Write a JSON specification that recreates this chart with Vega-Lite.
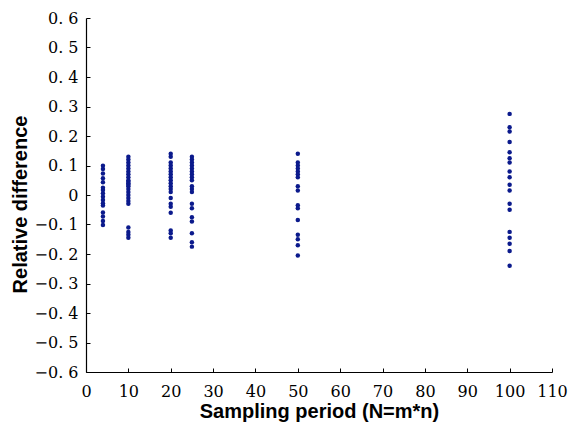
{
  "$schema": "https://vega.github.io/schema/vega-lite/v6.json",
  "width": 466,
  "height": 354,
  "autosize": {"type": "none"},
  "padding": {"left": 86, "top": 18, "right": 17, "bottom": 53},
  "background": "white",
  "config": {"view": {"stroke": null}},
  "data": {
    "values": [
      {"N": 4, "d": 0.099}, {"N": 4, "d": 0.088}, {"N": 4, "d": 0.073}, {"N": 4, "d": 0.057},
      {"N": 4, "d": 0.043}, {"N": 4, "d": 0.025}, {"N": 4, "d": 0.017}, {"N": 4, "d": 0.006},
      {"N": 4, "d": -0.006}, {"N": 4, "d": -0.017}, {"N": 4, "d": -0.028}, {"N": 4, "d": -0.036},
      {"N": 4, "d": -0.059}, {"N": 4, "d": -0.073}, {"N": 4, "d": -0.088}, {"N": 4, "d": -0.102},
      {"N": 10, "d": 0.13}, {"N": 10, "d": 0.12}, {"N": 10, "d": 0.11}, {"N": 10, "d": 0.1},
      {"N": 10, "d": 0.09}, {"N": 10, "d": 0.08}, {"N": 10, "d": 0.07}, {"N": 10, "d": 0.06},
      {"N": 10, "d": 0.05}, {"N": 10, "d": 0.045}, {"N": 10, "d": 0.04}, {"N": 10, "d": 0.035},
      {"N": 10, "d": 0.03}, {"N": 10, "d": 0.02}, {"N": 10, "d": 0.01}, {"N": 10, "d": 0.0},
      {"N": 10, "d": -0.01}, {"N": 10, "d": -0.02}, {"N": 10, "d": -0.03}, {"N": 10, "d": -0.11},
      {"N": 10, "d": -0.125}, {"N": 10, "d": -0.135}, {"N": 10, "d": -0.145},
      {"N": 20, "d": 0.14}, {"N": 20, "d": 0.13}, {"N": 20, "d": 0.11}, {"N": 20, "d": 0.1},
      {"N": 20, "d": 0.09}, {"N": 20, "d": 0.08}, {"N": 20, "d": 0.07}, {"N": 20, "d": 0.06},
      {"N": 20, "d": 0.05}, {"N": 20, "d": 0.04}, {"N": 20, "d": 0.03}, {"N": 20, "d": 0.02},
      {"N": 20, "d": 0.01}, {"N": 20, "d": -0.01}, {"N": 20, "d": -0.03}, {"N": 20, "d": -0.04},
      {"N": 20, "d": -0.06}, {"N": 20, "d": -0.12}, {"N": 20, "d": -0.13}, {"N": 20, "d": -0.145},
      {"N": 25, "d": 0.13}, {"N": 25, "d": 0.12}, {"N": 25, "d": 0.11}, {"N": 25, "d": 0.1},
      {"N": 25, "d": 0.09}, {"N": 25, "d": 0.08}, {"N": 25, "d": 0.07}, {"N": 25, "d": 0.06},
      {"N": 25, "d": 0.05}, {"N": 25, "d": 0.03}, {"N": 25, "d": 0.02}, {"N": 25, "d": 0.01},
      {"N": 25, "d": -0.03}, {"N": 25, "d": -0.045}, {"N": 25, "d": -0.075}, {"N": 25, "d": -0.09},
      {"N": 25, "d": -0.13}, {"N": 25, "d": -0.16}, {"N": 25, "d": -0.175},
      {"N": 50, "d": 0.14}, {"N": 50, "d": 0.11}, {"N": 50, "d": 0.1}, {"N": 50, "d": 0.09},
      {"N": 50, "d": 0.08}, {"N": 50, "d": 0.07}, {"N": 50, "d": 0.06}, {"N": 50, "d": 0.03},
      {"N": 50, "d": 0.015}, {"N": 50, "d": -0.035}, {"N": 50, "d": -0.045}, {"N": 50, "d": -0.085},
      {"N": 50, "d": -0.135}, {"N": 50, "d": -0.15}, {"N": 50, "d": -0.17}, {"N": 50, "d": -0.205},
      {"N": 100, "d": 0.275}, {"N": 100, "d": 0.23}, {"N": 100, "d": 0.215}, {"N": 100, "d": 0.18},
      {"N": 100, "d": 0.145}, {"N": 100, "d": 0.125}, {"N": 100, "d": 0.11}, {"N": 100, "d": 0.08},
      {"N": 100, "d": 0.06}, {"N": 100, "d": 0.035}, {"N": 100, "d": 0.015}, {"N": 100, "d": -0.03},
      {"N": 100, "d": -0.05}, {"N": 100, "d": -0.125}, {"N": 100, "d": -0.145}, {"N": 100, "d": -0.165},
      {"N": 100, "d": -0.19}, {"N": 100, "d": -0.24}
    ]
  },
  "mark": {"type": "circle", "size": 20, "color": "#0b1a8c", "opacity": 1},
  "encoding": {
    "x": {
      "field": "N",
      "type": "quantitative",
      "scale": {"domain": [0, 110], "nice": false},
      "axis": {
        "title": "Sampling period (N=m*n)",
        "titleFont": "Liberation Sans",
        "titleFontSize": 20,
        "titleFontWeight": "bold",
        "titleColor": "black",
        "titlePadding": 2,
        "values": [0, 10, 20, 30, 40, 50, 60, 70, 80, 90, 100, 110],
        "labelFont": "DejaVu Serif",
        "labelFontSize": 16,
        "labelColor": "black",
        "labelPadding": 15,
        "tickSize": -4,
        "tickColor": "black",
        "domainColor": "black",
        "domainWidth": 1.2,
        "grid": false,
        "labelFlush": false
      }
    },
    "y": {
      "field": "d",
      "type": "quantitative",
      "scale": {"domain": [-0.6, 0.6], "nice": false},
      "axis": {
        "title": "Relative difference",
        "titleFont": "Liberation Sans",
        "titleFontSize": 20,
        "titleFontWeight": "bold",
        "titleColor": "black",
        "titlePadding": 4,
        "titleY": 186,
        "values": [-0.6, -0.5, -0.4, -0.3, -0.2, -0.1, 0, 0.1, 0.2, 0.3, 0.4, 0.5, 0.6],
        "labelExpr": "abs(datum.value) < 1e-9 ? '0' : replace(replace(format(datum.value, '.1f'), '.', '. '), '-', '—')",
        "labelFont": "DejaVu Serif",
        "labelFontSize": 16,
        "labelColor": "black",
        "labelPadding": 12,
        "tickSize": -4,
        "tickColor": "black",
        "domainColor": "black",
        "domainWidth": 1.2,
        "grid": false,
        "labelFlush": false
      }
    }
  }
}
